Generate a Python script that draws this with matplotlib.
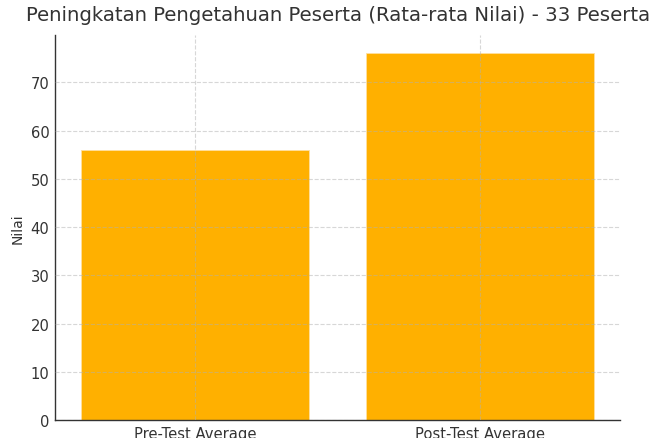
import matplotlib
matplotlib.use("Agg")
import matplotlib.pyplot as plt

categories = ["Pre-Test Average", "Post-Test Average"]
values = [56, 76]
title = "Peningkatan Pengetahuan Peserta (Rata-rata Nilai) - 33 Peserta"
ylabel = "Nilai"

plt.rcParams['font.family'] = ['DejaVu Sans']
fig = plt.figure(figsize=(6.59, 4.39), dpi=100)
ax = fig.add_axes([0.0835, 0.041, 0.8575, 0.877])

ax.bar(categories, values, width=0.8, color="#FFB000", edgecolor="#FFE0A0", linewidth=0.6)
ax.grid(True, linestyle="--", color="#B0B0B0", alpha=0.5, linewidth=0.8)
ax.set_axisbelow(False)
ax.spines["top"].set_visible(False)
ax.spines["right"].set_visible(False)
for s in ["left", "bottom"]:
    ax.spines[s].set_color("#333333")
    ax.spines[s].set_linewidth(1.0)
ax.tick_params(axis="both", colors="#333333", labelsize=10.6, length=0, pad=4)
ax.set_ylabel(ylabel, color="#333333", fontsize=10)
ax.set_title(title, color="#333333", fontsize=14.2, pad=11)

fig.savefig("out.png", dpi=100)
